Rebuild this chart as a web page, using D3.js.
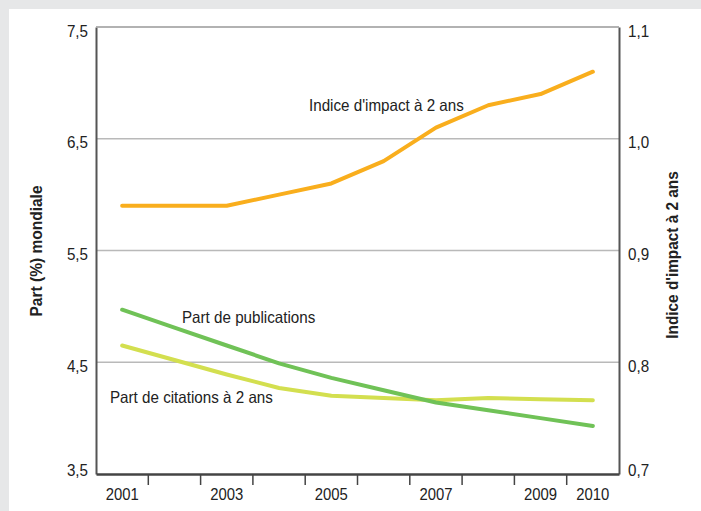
<!DOCTYPE html>
<html><head><meta charset="utf-8">
<script src="https://cdn.jsdelivr.net/npm/d3@7"></script>
<style>body{margin:0;background:#fff}svg{display:block}</style>
</head><body>
<svg id="c" width="701" height="511"></svg>
<script>
const years = [2001,2002,2003,2004,2005,2006,2007,2008,2009,2010];
const xLabels = [2001,2003,2005,2007,2009,2010];
const publications = [4.97,4.81,4.65,4.49,4.36,4.25,4.14,4.07,4.00,3.93];
const citations = [4.65,4.52,4.39,4.27,4.20,4.18,4.16,4.18,4.17,4.16];
const impact = [0.94,0.94,0.94,0.95,0.96,0.98,1.01,1.03,1.04,1.06];
const leftTicks = [3.5,4.5,5.5,6.5,7.5];
const rightTicks = [0.7,0.8,0.9,1.0,1.1];

const FONT = "'Liberation Sans',Arial,sans-serif";
const FS = 16.5;
const SQ = 0.92; // horizontal condensing
const svg = d3.select("#c");
const W = 701, H = 511;
const L = 96, R = 619, T = 27, B = 474;

function condense(sel, k) {
  sel.each(function () {
    const len = this.getComputedTextLength();
    d3.select(this).attr("textLength", len * k).attr("lengthAdjust", "spacingAndGlyphs");
  });
}

svg.append("rect").attr("width", W).attr("height", H).attr("fill", "#e6e7e8");
svg.append("rect").attr("x", 9).attr("y", 9).attr("width", W - 9).attr("height", H - 9).attr("fill", "#fff");

const x = d3.scaleBand().domain(years).range([L, R]).padding(0);
const cx = d => x(d) + x.bandwidth() / 2;
const yL = d3.scaleLinear().domain([3.5, 7.5]).range([B, T]);
const yR = d3.scaleLinear().domain([0.7, 1.1]).range([B, T]);
const fmt = v => d3.format(".1f")(v).replace(".", ",");

// grid
svg.append("g").selectAll("line").data(leftTicks.filter(v => v > 3.5)).join("line")
  .attr("x1", L).attr("x2", R).attr("y1", d => yL(d)).attr("y2", d => yL(d))
  .attr("stroke", "#b9b9b9").attr("stroke-width", 1.5);

// left axis
const gl = svg.append("g").attr("transform", `translate(${L},0)`)
  .call(d3.axisLeft(yL).tickValues(leftTicks).tickSize(0).tickPadding(8).tickFormat(fmt));
gl.select(".domain").attr("stroke", "#555").attr("stroke-width", 2);
gl.selectAll("text").attr("font-family", FONT).attr("font-size", FS).attr("fill", "#222")
  .attr("dy", d => d === 3.5 ? "0.1em" : "0.55em").call(condense, SQ);

// right axis
const gr = svg.append("g").attr("transform", `translate(${R},0)`)
  .call(d3.axisRight(yR).tickValues(rightTicks).tickSize(0).tickPadding(9).tickFormat(fmt));
gr.select(".domain").attr("stroke", "#555").attr("stroke-width", 2);
gr.selectAll("text").attr("font-family", FONT).attr("font-size", FS).attr("fill", "#222")
  .attr("dy", d => d === 0.7 ? "0.1em" : "0.55em").call(condense, SQ);

// bottom axis
const gb = svg.append("g").attr("transform", `translate(0,${B})`)
  .call(d3.axisBottom(x).tickValues(xLabels).tickSize(0).tickPadding(14).tickFormat(d => String(d)));
gb.select(".domain").attr("stroke", "#444").attr("stroke-width", 2.5);
gb.selectAll("text").attr("font-family", FONT).attr("font-size", FS).attr("fill", "#222").call(condense, 0.9);
svg.append("g").selectAll("line").data(years.slice(1)).join("line")
  .attr("x1", d => x(d)).attr("x2", d => x(d)).attr("y1", B).attr("y2", B + 11)
  .attr("stroke", "#444").attr("stroke-width", 1.5);

// top border
svg.append("line").attr("x1", L).attr("x2", R).attr("y1", T).attr("y2", T)
  .attr("stroke", "#aaa").attr("stroke-width", 1.5);

// axis titles
svg.append("text").attr("transform", `translate(42,251) rotate(-90)`)
  .attr("text-anchor", "middle").attr("font-family", FONT).attr("font-weight", "bold")
  .attr("font-size", 16).attr("fill", "#222").text("Part (%) mondiale").call(condense, 0.97);
svg.append("text").attr("transform", `translate(678,255) rotate(-90)`)
  .attr("text-anchor", "middle").attr("font-family", FONT).attr("font-weight", "bold")
  .attr("font-size", 16).attr("fill", "#222").text("Indice d'impact à 2 ans").call(condense, 0.96);

// lines
const lineL = d3.line().x((d, i) => cx(years[i])).y(d => yL(d));
const lineR = d3.line().x((d, i) => cx(years[i])).y(d => yR(d));
svg.append("path").datum(citations).attr("d", lineL).attr("fill", "none")
  .attr("stroke", "#d3df4f").attr("stroke-width", 4).attr("stroke-linecap", "round").attr("stroke-linejoin", "round");
svg.append("path").datum(publications).attr("d", lineL).attr("fill", "none")
  .attr("stroke", "#70c257").attr("stroke-width", 4).attr("stroke-linecap", "round").attr("stroke-linejoin", "round");
svg.append("path").datum(impact).attr("d", lineR).attr("fill", "none")
  .attr("stroke", "#f9ae1d").attr("stroke-width", 4).attr("stroke-linecap", "round").attr("stroke-linejoin", "round");

// labels
const lab = (tx, ty, s) => svg.append("text").attr("x", tx).attr("y", ty)
  .attr("font-family", FONT).attr("font-size", FS).attr("fill", "#222").text(s).call(condense, SQ);
lab(182, 323, "Part de publications");
lab(110, 403, "Part de citations à 2 ans");
lab(309, 111, "Indice d'impact à 2 ans");
</script>
</body></html>
